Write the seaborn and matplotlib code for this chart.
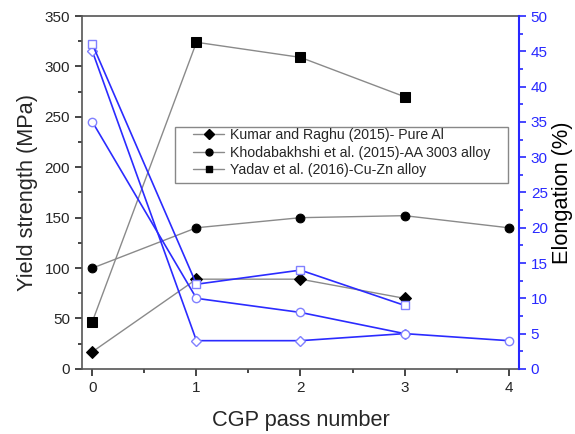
import matplotlib
matplotlib.use("Agg")
import matplotlib.pyplot as plt
from matplotlib.ticker import MultipleLocator
from matplotlib.lines import Line2D
from matplotlib.patches import Rectangle
import seaborn as sns

sns.set_style("ticks")
plt.rcParams['font.family'] = ['Liberation Sans', 'DejaVu Sans']

# Data
passes_kumar = [0, 1, 2, 3]
passes_khoda = [0, 1, 2, 3, 4]
passes_yadav = [0, 1, 2, 3]

ys_kumar = [17, 89, 89, 70]
ys_khoda = [100, 140, 150, 152, 140]
ys_yadav = [47, 324, 309, 270]

el_kumar = [45, 4, 4, 5]
el_khoda = [35, 10, 8, 5, 4]
el_yadav = [46, 12, 14, 9]

labels = ["Kumar and Raghu (2015)- Pure Al",
          "Khodabakhshi et al. (2015)-AA 3003 alloy",
          "Yadav et al. (2016)-Cu-Zn alloy"]
markers = ["D", "o", "s"]

fig = plt.figure(figsize=(5.75, 4.34), dpi=100)
ax = fig.add_axes([0.1426, 0.150, 0.760, 0.813])
ax2 = ax.twinx()

gray = "#8a8a8a"
blue_line = "#2b2bff"
blue_mk = "#8080ff"
blue_txt = "#2828ff"

ys_sets = [(passes_kumar, ys_kumar), (passes_khoda, ys_khoda), (passes_yadav, ys_yadav)]
el_sets = [(passes_kumar, el_kumar), (passes_khoda, el_khoda), (passes_yadav, el_yadav)]
msizes = [6, 6.3, 7]
msizes2 = [5.5, 6, 5.5]

for (xs, ys), m, ms in zip(ys_sets, markers, msizes):
    sns.lineplot(x=xs, y=ys, ax=ax, color=gray, lw=1.0, marker=m, ms=ms,
                 markerfacecolor="black", markeredgecolor="black", sort=False,
                 zorder=3)

for (xs, ys), m, ms in zip(el_sets, markers, msizes2):
    sns.lineplot(x=xs, y=ys, ax=ax2, color=blue_line, lw=1.2, marker=m, ms=ms,
                 markerfacecolor="white", markeredgecolor=blue_mk,
                 markeredgewidth=1.0, sort=False, zorder=3)

ax.set_xlim(-0.1, 4.1)
ax.set_ylim(0, 350)
ax2.set_ylim(0, 50)

ax.xaxis.set_major_locator(MultipleLocator(1))
ax.xaxis.set_minor_locator(MultipleLocator(0.5))
ax.yaxis.set_major_locator(MultipleLocator(50))
ax.yaxis.set_minor_locator(MultipleLocator(25))
ax2.yaxis.set_major_locator(MultipleLocator(5))
ax2.yaxis.set_minor_locator(MultipleLocator(2.5))

for a in (ax, ax2):
    a.tick_params(which="major", direction="out", length=5, width=1.2, labelsize=11)
    a.tick_params(which="minor", direction="out", length=3, width=1.2)

ax.tick_params(axis="x", which="both", top=False)
ax2.tick_params(axis="y", which="both", colors=blue_txt, labelcolor=blue_txt)

for s in ["left", "bottom", "top"]:
    ax.spines[s].set_color("#555555")
    ax.spines[s].set_linewidth(1.2)
ax2.spines["right"].set_color(blue_txt)
ax2.spines["right"].set_linewidth(1.5)
for s in ["left", "bottom", "top"]:
    ax2.spines[s].set_visible(False)
ax.spines["right"].set_visible(False)

ax.set_xlabel("CGP pass number", fontsize=15.7, labelpad=11)
ax.set_ylabel("Yield strength (MPa)", fontsize=15.7, labelpad=5)
ax2.set_ylabel("Elongation (%)", fontsize=15.7, labelpad=3, color="black")

# legend frame drawn as a box, legend entries placed inside it
ax2.add_patch(Rectangle((0.2128, 0.527), 0.762, 0.1586, transform=ax2.transAxes,
                        facecolor="white", edgecolor="#888888", lw=1.0, zorder=5))
handles = [Line2D([0], [0], color=gray, lw=1.0, marker=m, ms=5,
                  markerfacecolor="black", markeredgecolor="black")
           for m in markers]
leg = ax2.legend(handles, labels, loc="upper left", bbox_to_anchor=(0.254, 0.682),
                 fontsize=10.2, frameon=False, handlelength=2.2, handletextpad=0.4,
                 borderpad=0, borderaxespad=0, labelspacing=0.25)
leg.set_zorder(6)

fig.savefig("out.png", dpi=100)
